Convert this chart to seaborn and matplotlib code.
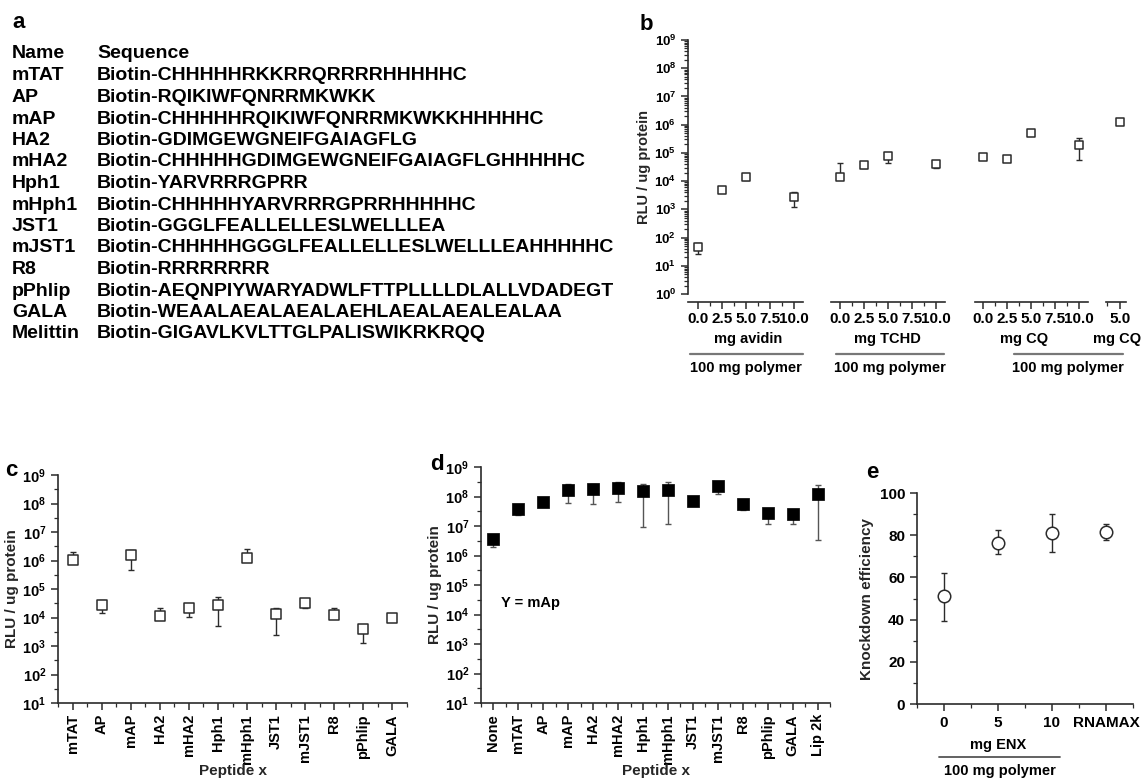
import matplotlib
matplotlib.use('Agg')
import matplotlib.pyplot as plt
import matplotlib.ticker as mticker
from matplotlib.lines import Line2D
import numpy as np
import seaborn as sns

W, H = 1141, 781
INK = '#2b2b2b'
FONT = 'Liberation Sans'

# ---- panel a: peptide table
names = ['mTAT', 'AP', 'mAP', 'HA2', 'mHA2', 'Hph1', 'mHph1', 'JST1', 'mJST1',
         'R8', 'pPhlip', 'GALA', 'Melittin']
sequences = ['Biotin-CHHHHHRKKRRQRRRRHHHHHC',
             'Biotin-RQIKIWFQNRRMKWKK',
             'Biotin-CHHHHHRQIKIWFQNRRMKWKKHHHHHC',
             'Biotin-GDIMGEWGNEIFGAIAGFLG',
             'Biotin-CHHHHHGDIMGEWGNEIFGAIAGFLGHHHHHC',
             'Biotin-YARVRRRGPRR',
             'Biotin-CHHHHHYARVRRRGPRRHHHHHC',
             'Biotin-GGGLFEALLELLESLWELLLEA',
             'Biotin-CHHHHHGGGLFEALLELLESLWELLLEAHHHHHC',
             'Biotin-RRRRRRRR',
             'Biotin-AEQNPIYWARYADWLFTTPLLLLDLALLVDADEGT',
             'Biotin-WEAALAEALAEALAEHLAEALAEALEALAA',
             'Biotin-GIGAVLKVLTTGLPALISWIKRKRQQ']

# ---- panel b: additive dose series (mg per 100 mg polymer)
b_groups = ['mg avidin', 'mg TCHD', 'mg CQ', 'mg CQ']
b_mg = [[0.0, 2.5, 5.0, 10.0], [0.0, 2.5, 5.0, 10.0], [0.0, 2.5, 5.0, 10.0], [5.0]]
b_rlu = [[45, 5000, 14000, 2700], [14000, 37000, 78000, 41000],
         [70000, 63000, 500000, 190000], [1250000]]
b_lo = [[27, 4000, 11000, 1200], [14000, 30000, 44000, 30000],
        [60000, 55000, 430000, 56000], [1050000]]
b_hi = [[62, 6000, 17000, 4200], [44000, 45000, 100000, 50000],
        [85000, 72000, 580000, 340000], [1450000]]

# ---- panel c: peptide alone
c_peptides = ['mTAT', 'AP', 'mAP', 'HA2', 'mHA2', 'Hph1', 'mHph1', 'JST1', 'mJST1',
              'R8', 'pPhlip', 'GALA']
c_rlu = [1.07e6, 2.8e4, 1.5e6, 1.1e4, 2.2e4, 2.8e4, 1.2e6, 1.3e4, 3.3e4, 1.2e4, 3.9e3, 9.5e3]
c_lo = [1.07e6, 1.4e4, 4.6e5, 1.1e4, 1.05e4, 5.0e3, 1.2e6, 2.4e3, 2.1e4, 1.2e4, 1.3e3, 8.5e3]
c_hi = [2.0e6, 4.1e4, 2.4e6, 2.2e4, 2.9e4, 5.2e4, 2.6e6, 2.1e4, 4.0e4, 2.2e4, 5.5e3, 1.1e4]

# ---- panel d: peptide x combined with mAP
d_peptides = ['None', 'mTAT', 'AP', 'mAP', 'HA2', 'mHA2', 'Hph1', 'mHph1', 'JST1', 'mJST1',
              'R8', 'pPhlip', 'GALA', 'Lip 2k']
d_rlu = [3.6e6, 3.8e7, 6.3e7, 1.7e8, 1.85e8, 2.0e8, 1.5e8, 1.6e8, 7.3e7, 2.3e8,
         5.4e7, 2.7e7, 2.6e7, 1.26e8]
d_lo = [2.0e6, 2.3e7, 6.0e7, 5.8e7, 5.5e7, 6.5e7, 9.3e6, 1.2e7, 7.0e7, 1.2e8,
        3.6e7, 1.2e7, 1.15e7, 3.4e6]
d_hi = [4.6e6, 5.0e7, 6.8e7, 2.7e8, 2.7e8, 3.2e8, 2.7e8, 3.0e8, 7.6e7, 3.2e8,
        6.5e7, 3.6e7, 3.6e7, 2.5e8]

# ---- panel e: knockdown
e_labels = ['0', '5', '10', 'RNAMAX']
e_kd = [51, 76.5, 81, 81.5]
e_lo = [39.5, 71, 72, 77.5]
e_hi = [62, 82.5, 90, 85.5]


def rect(left, top, right, bottom):
    return [left / W, 1 - bottom / H, (right - left) / W, (bottom - top) / H]


def ftext(x, y, s, **kw):
    fig.text(x / W, 1 - y / H, s, **kw)


def fline(x0, x1, y, **kw):
    fig.add_artist(Line2D([x0 / W, x1 / W], [1 - y / H, 1 - y / H],
                          transform=fig.transFigure, **kw))


def pow10(v, pos):
    return r'$\mathbf{10^{%d}}$' % round(np.log10(v))


def style_axes(ax):
    for side in ['top', 'right']:
        ax.spines[side].set_visible(False)
    for side in ['left', 'bottom']:
        ax.spines[side].set_linewidth(1.2)
        ax.spines[side].set_color(INK)
    ax.tick_params(which='major', length=5, width=1.1, color=INK)
    ax.tick_params(which='minor', length=3, width=0.9, color=INK)


def log_y(ax, lo, hi, size, many_minor=False):
    ax.set_yscale('log')
    ax.set_ylim(lo, hi)
    ax.yaxis.set_major_locator(mticker.LogLocator(base=10, numticks=20))
    ax.yaxis.set_major_formatter(mticker.FuncFormatter(pow10))
    subs = np.arange(2, 10) if many_minor else [10 ** 0.5]
    ax.yaxis.set_minor_locator(mticker.LogLocator(base=10, subs=subs, numticks=20))
    ax.yaxis.set_minor_formatter(mticker.NullFormatter())
    ax.tick_params(axis='y', labelsize=size)


def yerr(vals, lo, hi):
    vals, lo, hi = map(np.asarray, (vals, lo, hi))
    return [vals - lo, hi - vals]


sns.set_theme(style='ticks')
plt.rcParams['font.family'] = [FONT, 'DejaVu Sans']
plt.rcParams['font.weight'] = 'bold'
plt.rcParams['axes.labelweight'] = 'bold'
plt.rcParams['mathtext.fontset'] = 'custom'
plt.rcParams['mathtext.rm'] = FONT
plt.rcParams['mathtext.bf'] = FONT + ':bold'
plt.rcParams['text.color'] = 'black'
plt.rcParams['xtick.color'] = 'black'
plt.rcParams['ytick.color'] = 'black'

fig = plt.figure(figsize=(W / 100, H / 100), dpi=100)

# ---------------- panel a
ftext(12, 22, 'a', fontsize=16, fontweight='bold', va='center')
ftext(12, 53, 'Name', fontsize=14, fontweight='bold', va='center')
ftext(97, 53, 'Sequence', fontsize=14, fontweight='bold', va='center')
for i, (nm, sq) in enumerate(zip(names, sequences)):
    y = 76 + 21.5 * i
    ftext(12, y, nm, fontsize=14, fontweight='bold', va='center')
    ftext(97, y, sq, fontsize=14, fontweight='bold', va='center')

# ---------------- panel b (broken x axis)
b_spans = [(688, 803, -1.0, 10.9), (831, 945, -0.94, 10.9),
           (975, 1088, -0.83, 10.9), (1106, 1126, 3.65, 5.6)]
for i, (l, r, x0, x1) in enumerate(b_spans):
    ax = fig.add_axes(rect(l, 40, r, 294))
    ax.patch.set_visible(False)
    ax.errorbar(b_mg[i], b_rlu[i], yerr=yerr(b_rlu[i], b_lo[i], b_hi[i]), fmt='none',
                ecolor=INK, elinewidth=1, capsize=2.5, capthick=1, zorder=2)
    sns.scatterplot(x=b_mg[i], y=b_rlu[i], ax=ax, marker='s', s=34, color='white',
                    edgecolor=INK, linewidth=1.1, zorder=3)
    style_axes(ax)
    log_y(ax, 1, 1e9, 9.5, many_minor=True)
    ax.set_xlim(x0, x1)
    ax.xaxis.set_major_locator(mticker.FixedLocator([0, 2.5, 5, 7.5, 10]))
    ax.xaxis.set_major_formatter(mticker.FormatStrFormatter('%.1f'))
    ax.xaxis.set_minor_locator(mticker.MultipleLocator(1.25))
    ax.tick_params(axis='x', labelsize=11, pad=2)
    ax.spines['bottom'].set_position(('outward', 6))
    if i == 0:
        ax.set_ylabel('RLU / ug protein', fontsize=10.5, labelpad=2)
    else:
        ax.spines['left'].set_visible(False)
        ax.tick_params(axis='y', which='both', left=False, labelleft=False)

ftext(640, 25, 'b', fontsize=16, fontweight='bold', va='center')
for label, cx in zip(b_groups, [748, 887, 1024, 1117]):
    ftext(cx, 339, label, fontsize=10.5, fontweight='bold', ha='center', va='center')
for x0, x1, cx in [(690, 803, 746), (836, 944, 890), (1014, 1123, 1068)]:
    fline(x0, x1, 354, color='#777777', lw=1.6)
    ftext(cx, 368, '100 mg polymer', fontsize=10.5, fontweight='bold',
          ha='center', va='center')

# ---------------- panel c
ax = fig.add_axes(rect(58, 475, 407, 703))
ax.errorbar(np.arange(len(c_peptides)), c_rlu, yerr=yerr(c_rlu, c_lo, c_hi), fmt='none',
            ecolor=INK, elinewidth=1, capsize=2.5, capthick=1, zorder=2)
sns.stripplot(x=c_peptides, y=c_rlu, ax=ax, jitter=False, marker='s', size=7.5,
              color='white', edgecolor=INK, linewidth=1.1, zorder=3)
style_axes(ax)
log_y(ax, 10, 1e9, 10.5)
ax.set_xlim(-0.5, len(c_peptides) - 0.5)
ax.xaxis.set_minor_locator(mticker.MultipleLocator(0.5))
ax.tick_params(axis='x', labelrotation=90, labelsize=10.5, pad=3)
ax.set_xlabel('Peptide x', fontsize=11, labelpad=0)
ax.set_ylabel('RLU / ug protein', fontsize=11, labelpad=2)
ftext(5, 470, 'c', fontsize=16, fontweight='bold', va='center')

# ---------------- panel d
ax = fig.add_axes(rect(481, 467, 830, 703))
ax.errorbar(np.arange(len(d_peptides)), d_rlu, yerr=yerr(d_rlu, d_lo, d_hi), fmt='none',
            ecolor='#555555', elinewidth=1, capsize=2.5, capthick=1, zorder=2)
sns.stripplot(x=d_peptides, y=d_rlu, ax=ax, jitter=False, marker='s', size=8,
              color='black', edgecolor='black', linewidth=0.5, zorder=3)
style_axes(ax)
log_y(ax, 10, 1e9, 10.5)
ax.set_xlim(-0.5, len(d_peptides) - 0.5)
ax.xaxis.set_minor_locator(mticker.MultipleLocator(0.5))
ax.tick_params(axis='x', labelrotation=90, labelsize=10.5, pad=3)
ax.set_xlabel('Peptide x', fontsize=11, labelpad=0)
ax.set_ylabel('RLU / ug protein', fontsize=11, labelpad=2)
ax.text(0.3, 10 ** 4.4, 'Y = mAp', fontsize=10.5, fontweight='bold', va='center')
ftext(430, 465, 'd', fontsize=16, fontweight='bold', va='center')

# ---------------- panel e
ax = fig.add_axes(rect(917, 493, 1133, 704))
ax.errorbar(np.arange(len(e_labels)), e_kd, yerr=yerr(e_kd, e_lo, e_hi), fmt='none',
            ecolor=INK, elinewidth=1, capsize=2.5, capthick=1, zorder=2)
sns.stripplot(x=e_labels, y=e_kd, ax=ax, jitter=False, marker='o', size=9,
              color='white', edgecolor=INK, linewidth=1.1, zorder=3)
style_axes(ax)
ax.set_ylim(0, 100)
ax.set_xlim(-0.5, len(e_labels) - 0.5)
ax.yaxis.set_major_locator(mticker.MultipleLocator(20))
ax.yaxis.set_minor_locator(mticker.MultipleLocator(10))
ax.xaxis.set_minor_locator(mticker.MultipleLocator(0.5))
ax.tick_params(labelsize=11)
ax.set_ylabel('Knockdown efficiency', fontsize=11, labelpad=4)
ftext(866, 472, 'e', fontsize=16, fontweight='bold', va='center')
ftext(998, 745, 'mg ENX', fontsize=10.5, fontweight='bold', ha='center', va='center')
fline(939, 1060, 757, color='#555555', lw=1.3)
ftext(1000, 771, '100 mg polymer', fontsize=10.5, fontweight='bold', ha='center', va='center')

fig.savefig('out.png', dpi=100)
